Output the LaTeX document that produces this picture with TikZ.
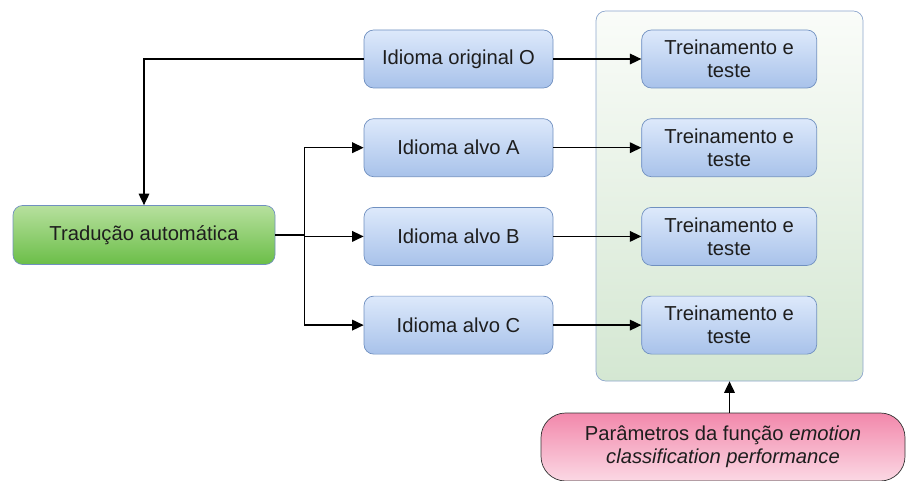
\documentclass[tikz,border=0pt]{standalone}
\usepackage{fontspec}
\setmainfont{Liberation Sans}
\usepackage{tikz}
\usetikzlibrary{positioning, shapes, arrows.meta, calc}

\definecolor{txtgray}{HTML}{1E1E1E}
\definecolor{bluetop}{HTML}{DDE9FB}
\definecolor{bluebot}{HTML}{A8C2EA}
\definecolor{blueline}{HTML}{7090C0}
\definecolor{greentop}{HTML}{B7E09E}
\definecolor{greenbot}{HTML}{6BBE48}
\definecolor{boxtop}{HTML}{FAFCF9}
\definecolor{boxbot}{HTML}{D4E7D2}
\definecolor{pinktop}{HTML}{F288AB}
\definecolor{pinkbot}{HTML}{FBD8E4}

\tikzset{
    lang/.style={draw=blueline, top color=bluetop, bottom color=bluebot, rounded corners=5.5pt,
        minimum width=3.78cm, minimum height=1.16cm, text=txtgray, align=center},
    train/.style={lang, minimum width=3.5cm},
    arrow/.style={-{Triangle[length=6.5pt,width=6pt]}, line width=0.8pt, black}
}

\begin{document}
\begin{tikzpicture}[font=\fontsize{11.5}{13}\selectfont, node distance=0.6cm]
        \clip (0,0) rectangle (18.14,-9.62);

        % Group of training boxes
        \node[draw=blueline!80, top color=boxtop, bottom color=boxbot, rounded corners=5.5pt,
            minimum width=5.34cm, minimum height=7.4cm] (group) at (14.59,-3.92) {};

        % Languages
        \node[lang] (idiomaO) at (9.17,-1.18) {Idioma original O};
        \node[lang, below=of idiomaO] (idiomaA) {Idioma alvo A};
        \node[lang, below=of idiomaA] (idiomaB) {Idioma alvo B};
        \node[lang, below=of idiomaB] (idiomaC) {Idioma alvo C};

        % Training and test
        \node[train, right=1.76cm of idiomaO] (trainO) {Treinamento e\\teste};
        \node[train, right=1.76cm of idiomaA] (trainA) {Treinamento e\\teste};
        \node[train, right=1.76cm of idiomaB] (trainB) {Treinamento e\\teste};
        \node[train, right=1.76cm of idiomaC] (trainC) {Treinamento e\\teste};

        % Translation
        \node[draw=blueline, top color=greentop, bottom color=greenbot, rounded corners=5.5pt,
            minimum width=5.24cm, minimum height=1.18cm, text=txtgray] (traducao) at (2.88,-4.70) {Tradução automática};

        % Parameters
        \node[draw=black!80, top color=pinktop, bottom color=pinkbot, rounded corners=14pt,
            minimum width=7.28cm, minimum height=1.36cm, text=txtgray, align=center] (params) at (14.46,-8.94)
            {Parâmetros da função \textit{emotion}\\\textit{classification performance}};

        % Connectors
        \coordinate[right=0.58cm of traducao.east] (split);
        \draw[arrow] (idiomaO.west) -| (traducao.north);
        \draw[line width=0.8pt] (traducao.east) -- (split);
        \draw[arrow] (split) |- (idiomaA.west);
        \draw[arrow] (split) -- (split |- idiomaB.west) -- (idiomaB.west);
        \draw[arrow] (split) |- (idiomaC.west);

        \draw[arrow] (idiomaO) -- (trainO);
        \draw[arrow] (idiomaA) -- (trainA);
        \draw[arrow] (idiomaB) -- (trainB);
        \draw[arrow] (idiomaC) -- (trainC);

        \draw[arrow] (group.south |- params.north) -- (group.south);
\end{tikzpicture}
\end{document}
